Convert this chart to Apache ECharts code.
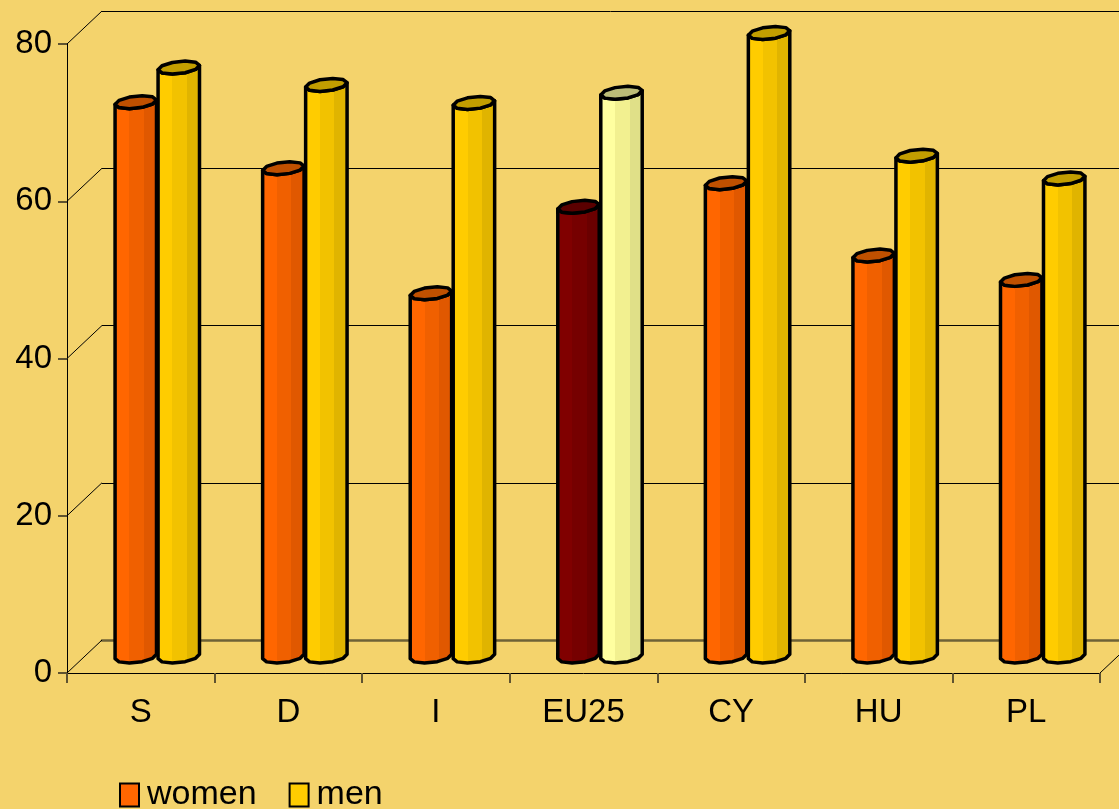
<!DOCTYPE html>
<html>
<head>
<meta charset="utf-8">
<script src="https://cdn.jsdelivr.net/npm/echarts@6/dist/echarts.min.js"></script>
<style>
  html, body { margin: 0; padding: 0; background: #F4D36C; }
  #main { width: 1119px; height: 809px; }
</style>
</head>
<body>
<div id="main"></div>
<script>
  // data
  const categories = ['S', 'D', 'I', 'EU25', 'CY', 'HU', 'PL'];
  const women = [70.5, 62.1, 46.2, 57.2, 60.2, 51.0, 47.9];
  const men = [74.9, 72.7, 70.4, 71.7, 79.3, 63.7, 60.8];
  const yTicks = [0, 20, 40, 60, 80];

  // depth of the 3d box (front plane -> back wall)
  const DX = 35, DY = -33;
  const RX = 19.5, EX = 7, EY = 6.5, N = 10;
  const FONT = "'Liberation Sans', Arial, sans-serif";

  const palWomen = {top: '#C05000', stops: ['#FF6600', '#F06000', '#E05800']};
  const palMen = {top: '#C29E00', stops: ['#FFCC00', '#F2C200', '#E0B400']};
  const palEUw = {top: '#5A0000', stops: ['#800000', '#760000', '#6A0000']};
  const palEUm = {top: '#BDBD78', stops: ['#FFFFA0', '#F2F090', '#E0E088']};

  function ringPt(cx, cy, k) {
    const t0 = Math.atan2(EX, RX);
    const t = t0 + k * 2 * Math.PI / N;
    return [cx + RX * Math.cos(t) + EX * Math.sin(t), cy - EY * Math.sin(t)];
  }

  function bandFill(stops) {
    return new echarts.graphic.LinearGradient(0, 0, 1, 0, [
      {offset: 0, color: stops[0]}, {offset: 0.36, color: stops[0]},
      {offset: 0.36, color: stops[1]}, {offset: 0.68, color: stops[1]},
      {offset: 0.68, color: stops[2]}, {offset: 1, color: stops[2]}
    ]);
  }

  function cylinder(side, pal, palEU) {
    return function (params, api) {
      const cat = api.value(0);
      const p = categories[cat] === 'EU25' ? palEU : pal;
      const top = api.coord([cat, api.value(1)]);
      const base = api.coord([cat, 0]);
      const cx = top[0] + DX * 0.5 + side;
      const ty = top[1] + DY * 0.5;
      const by = base[1] + DY * 0.5;
      const body = [];
      for (let k = N / 2; k <= N; k++) body.push(ringPt(cx, by, k));
      for (let k = N; k >= N / 2; k--) body.push(ringPt(cx, ty, k));
      const cap = [];
      for (let k = 0; k < N; k++) cap.push(ringPt(cx, ty, k));
      const stroke = {stroke: '#000', lineWidth: 3.5, lineJoin: 'round'};
      return {
        type: 'group',
        children: [
          {type: 'polygon', shape: {points: body}, style: Object.assign({fill: bandFill(p.stops)}, stroke)},
          {type: 'polygon', shape: {points: cap}, style: Object.assign({fill: p.top}, stroke)}
        ]
      };
    };
  }

  function frameItem(params, api) {
    const cs = params.coordSys;
    const v = api.value(1);
    const y = api.coord([0, v])[1];
    const lines = [{type: 'line', shape: {x1: cs.x, y1: y, x2: cs.x + DX, y2: y + DY},
      style: {stroke: '#000', lineWidth: 1}}];
    if (v === 0) {
      lines.push({type: 'line', shape: {x1: cs.x + cs.width, y1: y, x2: cs.x + cs.width + DX, y2: y + DY},
        style: {stroke: '#000', lineWidth: 1}});
    }
    return {type: 'group', children: lines};
  }

  const chart = echarts.init(document.getElementById('main'));
  chart.setOption({
    backgroundColor: '#F4D36C',
    animation: false,
    grid: [
      {left: 67, top: 44, width: 1033, height: 629},
      {left: 102, top: 11, width: 1033, height: 629}
    ],
    legend: {
      left: 114, top: 773,
      itemWidth: 19, itemHeight: 23, itemGap: 32,
      icon: 'rect',
      data: ['women', 'men'],
      textStyle: {fontFamily: FONT, fontSize: 34, color: '#000', padding: [0, 0, 0, 3]}
    },
    xAxis: [
      {
        gridIndex: 0, type: 'category', data: categories,
        axisLine: {lineStyle: {color: '#000', width: 1}},
        axisTick: {show: true, length: 10, lineStyle: {color: '#5F5330', width: 2}},
        axisLabel: {fontFamily: FONT, fontSize: 33, color: '#000', margin: 23}
      },
      {
        gridIndex: 1, type: 'category', data: categories, position: 'top',
        axisLine: {lineStyle: {color: '#6E6236', width: 2.5}},
        axisTick: {show: false}, axisLabel: {show: false}
      }
    ],
    yAxis: [
      {
        gridIndex: 0, type: 'value', min: 0, max: 80, interval: 20,
        axisLine: {show: true, lineStyle: {color: '#000', width: 1}},
        axisTick: {show: true, length: 9, lineStyle: {color: '#5F5330', width: 2}},
        axisLabel: {fontFamily: FONT, fontSize: 33, color: '#000', margin: 15},
        splitLine: {show: false}
      },
      {
        gridIndex: 1, type: 'value', min: 0, max: 80, interval: 20,
        axisLine: {show: false}, axisTick: {show: false}, axisLabel: {show: false},
        splitLine: {show: true, lineStyle: {color: '#000', width: 1}}
      }
    ],
    series: [
      {
        type: 'custom', name: 'frame', xAxisIndex: 0, yAxisIndex: 0, z: 1,
        silent: true, renderItem: frameItem,
        data: yTicks.map(v => [0, v])
      },
      {
        type: 'custom', name: 'women', xAxisIndex: 0, yAxisIndex: 0, z: 3,
        itemStyle: {color: '#FF6600', borderColor: '#000', borderWidth: 2},
        renderItem: cylinder(-22.5, palWomen, palEUw),
        data: women.map((v, i) => [i, v])
      },
      {
        type: 'custom', name: 'men', xAxisIndex: 0, yAxisIndex: 0, z: 4,
        itemStyle: {color: '#FFCC00', borderColor: '#000', borderWidth: 2},
        renderItem: cylinder(20.5, palMen, palEUm),
        data: men.map((v, i) => [i, v])
      }
    ]
  });
</script>
</body>
</html>
